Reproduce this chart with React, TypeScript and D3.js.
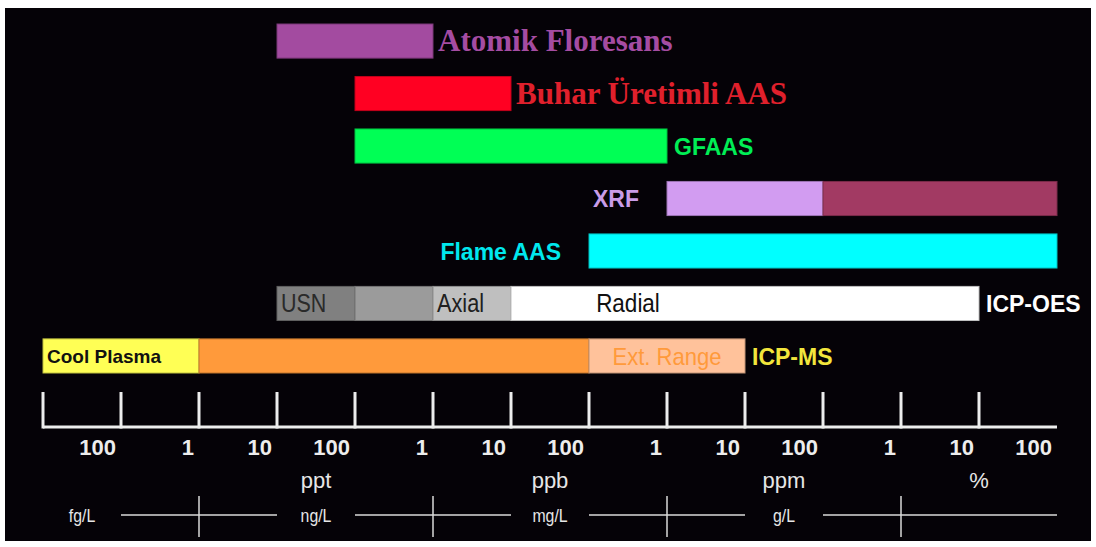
import React from "react";
import * as d3 from "d3";

// ---------- data ----------
const techniques = ["Atomik Floresans", "Buhar Üretimli AAS", "GFAAS", "XRF", "Flame AAS", "ICP-OES", "ICP-MS"];
const techniqueLabelSide = ["right", "right", "right", "left", "left", "right", "right"];

// working-range segments (concentration on a decade scale)
const segTechnique = ["Atomik Floresans", "Buhar Üretimli AAS", "GFAAS", "XRF", "XRF", "Flame AAS", "ICP-OES", "ICP-OES", "ICP-OES", "ICP-OES", "ICP-MS", "ICP-MS", "ICP-MS"];
const segFrom = [1e3, 1e4, 1e4, 1e8, 1e10, 1e7, 1e3, 1e4, 1e5, 1e6, 1e0, 1e2, 1e7];
const segTo = [1e5, 1e6, 1e8, 1e10, 1e13, 1e13, 1e4, 1e5, 1e6, 1e12, 1e2, 1e7, 1e9];
const segLabel = ["", "", "", "", "", "", "USN", "", "Axial", "Radial", "Cool Plasma", "", "Ext. Range"];
const segLabelAt = [0, 0, 0, 0, 0, 0, 1e3, 0, 1e5, Math.pow(10, 7.5), 1e0, 0, Math.pow(10, 8)];

const tickValues = d3.range(0, 13).map((k) => Math.pow(10, k));
const tickLabels = ["100", "1", "10", "100", "1", "10", "100", "1", "10", "100", "1", "10", "100"];
const axisDomain = [1, 1e13];

const ratioLabels = ["ppt", "ppb", "ppm", "%"];
const ratioAt = [Math.pow(10, 3.5), Math.pow(10, 6.5), Math.pow(10, 9.5), 1e12];

const unitLabels = ["fg/L", "ng/L", "mg/L", "g/L"];
const unitAt = [Math.pow(10, 0.5), Math.pow(10, 3.5), Math.pow(10, 6.5), Math.pow(10, 9.5)];
const unitLineFrom = [1e1, 1e4, 1e7, 1e10];
const unitLineTo = [1e3, 1e6, 1e9, 1e13];
const unitCross = [1e2, 1e5, 1e8, 1e11];

// ---------- styles ----------
const segFill = ["#A34BA0", "#FF0022", "#00FF55", "#D29CF1", "#A23A63", "#00FFFF", "#808080", "#9B9B9B", "#BFBFBF", "#FFFFFF", "#FFFF55", "#FF9A3B", "#FFC29B"];
const segTextColor = ["", "", "", "", "", "", "#2a2a2a", "", "#202020", "#111111", "#111111", "", "#FF9A3B"];
const segTextAnchor = ["", "", "", "", "", "", "start", "", "start", "middle", "start", "", "middle"];
const segTextWeight = ["", "", "", "", "", "", "normal", "", "normal", "normal", "bold", "", "normal"];
const segTextSize = [0, 0, 0, 0, 0, 0, 25, 0, 25, 25, 19, 0, 24];
const segTextStretch = [1, 1, 1, 1, 1, 1, 0.86, 1, 0.87, 0.9, 1, 1, 0.92];
const techColor = ["#A54CA2", "#E0202C", "#00EE55", "#C99CE8", "#00E8EE", "#FFFFFF", "#F2E63C"];
const techFont = ["serif", "serif", "sans", "sans", "sans", "sans", "sans"];

const SANS = "'Liberation Sans', Arial, sans-serif";
const SERIF = "'Liberation Serif', 'Times New Roman', serif";

export default function App() {
  const W = 1096;
  const H = 547;
  const x = d3.scaleLog().domain(axisDomain).range([43, 1057]);
  const y = d3.scaleBand<string>().domain(techniques).range([24, 373]).paddingInner(0.35).paddingOuter(0);
  const bw = y.bandwidth();

  const axisY = 427;
  const tickTop = 392;

  return (
    <svg width={W} height={H} style={{ position: "absolute", left: 0, top: 0, background: "#fff" }}>
      <rect x={5} y={8} width={1086} height={533} fill="#050207" />

      {/* range bars */}
      {segFrom.map((f, i) => {
        const x0 = x(f);
        const x1 = x(segTo[i]);
        const y0 = y(segTechnique[i])!;
        const stroke = d3.color(segFill[i])!.darker(0.8).formatHex();
        return (
          <rect key={"s" + i} x={x0} y={y0} width={x1 - x0} height={bw} fill={segFill[i]} stroke={stroke} strokeWidth={1} />
        );
      })}

      {/* labels inside bars */}
      {segLabel.map((lab, i) => {
        if (!lab) return null;
        const y0 = y(segTechnique[i])! + bw / 2;
        const anchor = segTextAnchor[i];
        const tx = anchor === "start" ? x(segLabelAt[i]) + 4 : x(segLabelAt[i]);
        return (
          <text key={"sl" + i} transform={`translate(${tx},${y0}) scale(${segTextStretch[i]},1)`} dy="0.36em"
            textAnchor={anchor} fill={segTextColor[i]}
            fontFamily={SANS} fontSize={segTextSize[i]} fontWeight={segTextWeight[i]}>
            {lab}
          </text>
        );
      })}

      {/* technique labels */}
      {techniques.map((t, i) => {
        const segs = segTechnique.map((s, j) => (s === t ? j : -1)).filter((j) => j >= 0);
        const minX = d3.min(segs, (j) => x(segFrom[j]))!;
        const maxX = d3.max(segs, (j) => x(segTo[j]))!;
        const cy = y(t)! + bw / 2;
        const right = techniqueLabelSide[i] === "right";
        const serif = techFont[i] === "serif";
        const gap = serif ? 5 : right ? 7 : 28;
        return (
          <text key={"t" + i} x={right ? maxX + gap : minX - gap} y={cy} dy={serif ? "0.33em" : "0.38em"}
            textAnchor={right ? "start" : "end"} fill={techColor[i]} fontFamily={serif ? SERIF : SANS}
            fontSize={serif ? 31 : 23} fontWeight="bold">
            {t}
          </text>
        );
      })}

      {/* axis */}
      <line x1={x(axisDomain[0])} x2={x(axisDomain[1])} y1={axisY} y2={axisY} stroke="#EDEDED" strokeWidth={3} />
      {tickValues.map((v, i) => (
        <line key={"tk" + i} x1={x(v)} x2={x(v)} y1={tickTop} y2={axisY + 1.5} stroke="#EDEDED" strokeWidth={3} />
      ))}
      {tickLabels.map((lab, i) => (
        <text key={"tl" + i} x={x(Math.pow(10, i + 1)) - 5} y={455} textAnchor="end" fill="#EDEDED"
          fontFamily={SANS} fontSize={22} fontWeight="bold">
          {lab}
        </text>
      ))}

      {/* ratio units */}
      {ratioLabels.map((lab, i) => (
        <text key={"r" + i} x={x(ratioAt[i])} y={488} textAnchor="middle" fill="#E6E6E6" fontFamily={SANS} fontSize={22}>
          {lab}
        </text>
      ))}

      {/* concentration units */}
      {unitLabels.map((lab, i) => (
        <g key={"u" + i}>
          <text transform={`translate(${x(unitAt[i])},522) scale(0.88,1)`} textAnchor="middle" fill="#E6E6E6"
            fontFamily={SANS} fontSize={18}>
            {lab}
          </text>
          <line x1={x(unitLineFrom[i])} x2={x(unitLineTo[i])} y1={515} y2={515} stroke="#DADADA" strokeWidth={1.5} />
          <line x1={x(unitCross[i])} x2={x(unitCross[i])} y1={496} y2={537} stroke="#DADADA" strokeWidth={1.5} />
        </g>
      ))}
    </svg>
  );
}
